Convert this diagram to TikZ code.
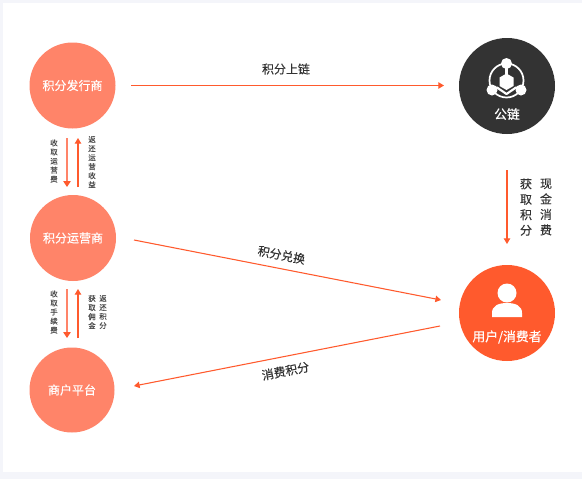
\documentclass[tikz,border=0pt]{standalone}
\usepackage{fontspec}
\setmainfont{Noto Sans CJK SC}
\newfontfamily\medf[FakeBold=0.3]{Noto Sans CJK SC}
\newfontfamily\thinf[FakeBold=0.1]{Noto Sans CJK SC}
\usetikzlibrary{arrows.meta}
\definecolor{pagebg}{HTML}{F4F5FA}
\definecolor{lightc}{HTML}{FF8469}
\definecolor{hotc}{HTML}{FF5A2D}
\definecolor{darkc}{HTML}{333333}
\definecolor{txtc}{HTML}{333333}
\definecolor{tinyc}{HTML}{4A4A4A}
\tikzset{
  x=0.75pt,y=-0.75pt,
  disc/.style={circle,inner sep=0pt,minimum size=#1*0.75pt,text=white,font=\medf\fontsize{9}{11}\selectfont},
  flow/.style={draw=hotc,line width=0.8pt,-{Triangle[length=4.2pt,width=4.8pt]}},
  flowlight/.style={draw=lightc,line width=1.2pt,-{Triangle[length=4.4pt,width=5.4pt,color=hotc]}},
  tiny/.style={text=tinyc,inner sep=0pt,align=center,font=\thinf\fontsize{5.6}{6.8}\selectfont},
  mid/.style={text=txtc,inner sep=0pt,align=center,font=\thinf\fontsize{9}{11.6}\selectfont},
  inlabel/.style={text=white,inner sep=0pt,font=\medf\fontsize{9.6}{11}\selectfont},
}
\begin{document}
\begin{tikzpicture}
\useasboundingbox (0,0) rectangle (582,479);
\fill[pagebg] (0,0) rectangle (582,479);
\fill[white] (3,3) rectangle (582,472);

\node[disc=86,fill=lightc] (fx) at (72.5,85.5) {积分发行商};
\node[disc=86,fill=lightc] (yy) at (73,238) {积分运营商};
\node[disc=85,fill=lightc] (sh) at (72,390) {商户平台};
\node[disc=96,fill=darkc] (gl) at (507,86) {};
\node[disc=96,fill=hotc] (us) at (507,313) {};

% chain icon
\draw[white,line width=1.3pt] (506.5,80.5) circle[radius=17];
\fill[white] (506.5,63.5) circle[radius=5.5] (492,90) circle[radius=5.5] (521,90) circle[radius=5.5];
\draw[white,line width=1.6pt] (506.5,63.5) -- (506.5,74);
\fill[white] (506.5,73.5) -- (513.5,77.5) -- (513.5,86) -- (506.5,90) -- (499.5,86) -- (499.5,77.5) -- cycle;
\draw[white,line width=1.6pt,line join=round] (492,90) -- (497,87.5) -- (506.5,94) -- (516,87.5) -- (521,90);
\node[inlabel] (gllabel) at (507,114) {公链};

% person icon
\fill[white] (507,293) circle[radius=9.5];
\fill[white] (492,317) -- (492,313) .. controls (492,306) and (498,303) .. (507,303) .. controls (516,303) and (522,306) .. (522,313) -- (522,317) -- cycle;
\node[inlabel] (uslabel) at (507,337) {用户/消费者};

% free ends, offset from the nodes they leave and reach
\coordinate (t1) at (131,85.5);
\coordinate (t2) at (444,85.5);
\coordinate (d1) at (507,170);
\coordinate (d2) at (507,244);
\coordinate (a1) at (134,240);
\coordinate (a2) at (441,300);
\coordinate (b1) at (440,326);
\coordinate (b2) at (134,386);
\coordinate (p1) at (67,138);
\coordinate (p2) at (67,187);
\coordinate (q1) at (78,187);
\coordinate (q2) at (78,138);
\coordinate (r1) at (67,289);
\coordinate (r2) at (67,338);
\coordinate (u1) at (78,338);
\coordinate (u2) at (78,289);

\draw[flow] (t1) -- (t2);
\draw[flow] (d1) -- (d2);
\draw[flow] (a1) -- (a2);
\draw[flow] (b1) -- (b2);
\draw[flowlight] (p1) -- (p2);
\draw[flow] (q1) -- (q2);
\draw[flowlight] (r1) -- (r2);
\draw[flow] (u1) -- (u2);

\node[mid] (l1) at (286,69) {积分上链};
\node[mid,rotate=-11] (l2) at (281.5,255) {积分兑换};
\node[mid,rotate=11] (l3) at (285.5,371) {消费积分};
\node[mid] (l4) at (526,207) {获\\取\\积\\分};
\node[mid] (l5) at (546,207) {现\\金\\消\\费};

\node[tiny] (s1) at (54,161) {收\\取\\运\\营\\费};
\node[tiny] (s2) at (92,162) {返\\还\\运\\营\\收\\益};
\node[tiny] (s3) at (54,312) {收\\取\\手\\续\\费};
\node[tiny] (s4) at (92,312) {获\\取\\佣\\金};
\node[tiny] (s5) at (103,312) {返\\还\\积\\分};
\end{tikzpicture}
\end{document}
